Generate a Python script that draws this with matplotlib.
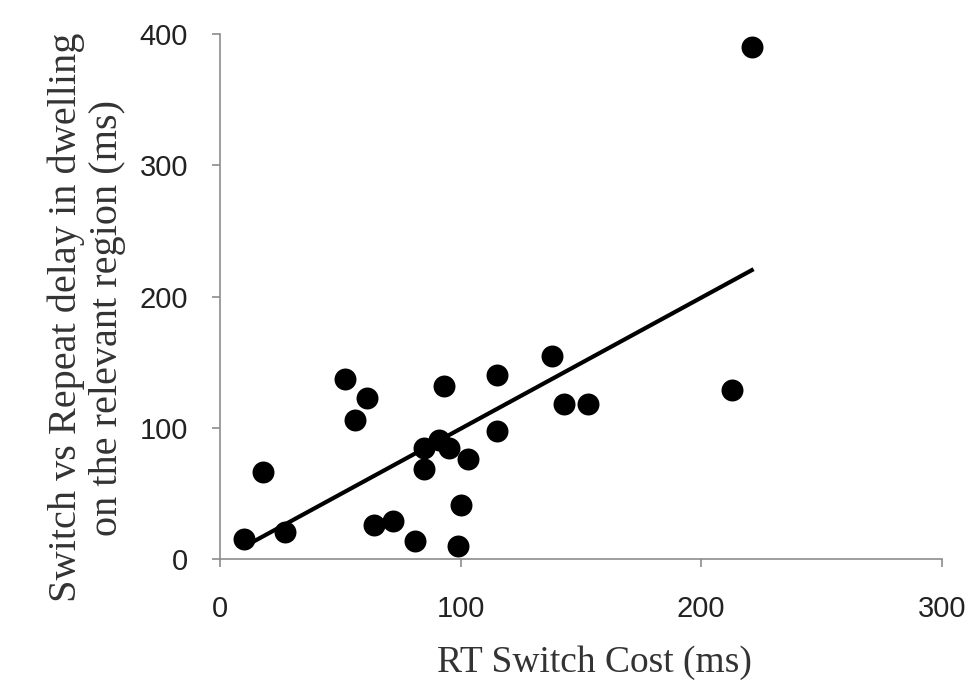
import numpy as np
import matplotlib
matplotlib.use("Agg")
import matplotlib.pyplot as plt

# RT switch cost (ms) vs switch-repeat dwell delay (ms), one point per participant
rt_switch_cost = [10, 18, 27, 52, 61, 56, 64, 72, 81, 93, 85, 91, 95, 85,
                  103, 100, 99, 115, 115, 138, 143, 153, 213, 221]
dwell_delay    = [15, 66, 21, 137, 123, 106, 26, 29, 14, 132, 85, 91, 85, 69,
                  76, 41, 10, 140, 98, 155, 118, 118, 129, 390]

X_TICKS = [0, 100, 200, 300]
Y_TICKS = [0, 100, 200, 300, 400]

x = np.array(rt_switch_cost, dtype=float)
y = np.array(dwell_delay, dtype=float)
slope, intercept = np.polyfit(x, y, 1)
xs = np.array([x.min(), x.max()])

fig = plt.figure(figsize=(9.73, 6.86), dpi=100)
ax = fig.add_axes([0.226, 0.185, 0.742, 0.765])

ax.scatter(x, y, s=250, color="black", zorder=3, linewidths=0)
ax.plot(xs, slope * xs + intercept, color="black", linewidth=3, zorder=2)

ax.set_xlim(0, 300)
ax.set_ylim(0, 400)
ax.set_xticks(X_TICKS)
ax.set_yticks(Y_TICKS)

for side in ["top", "right"]:
    ax.spines[side].set_visible(False)
for side in ["left", "bottom"]:
    ax.spines[side].set_color("#8c8c8c")
    ax.spines[side].set_linewidth(1.2)

ax.tick_params(axis="both", colors="#8c8c8c", length=6, width=1.2,
               labelcolor="#222222", labelsize=21)
ax.tick_params(axis="x", pad=20)
ax.tick_params(axis="y", pad=17)
for lab in ax.get_xticklabels() + ax.get_yticklabels():
    lab.set_family("Liberation Sans")

ax.set_xlabel("RT Switch Cost (ms)", family="Liberation Serif", fontsize=27,
              color="#333333")
ax.xaxis.set_label_coords(0.519, -0.165)
ax.set_ylabel("Switch vs Repeat delay in dwelling\non the relevant region (ms)",
              family="Liberation Serif", fontsize=29, color="#333333",
              linespacing=1.15)
ax.yaxis.set_label_coords(-0.13, 0.46)

fig.savefig("out.png", dpi=100)
